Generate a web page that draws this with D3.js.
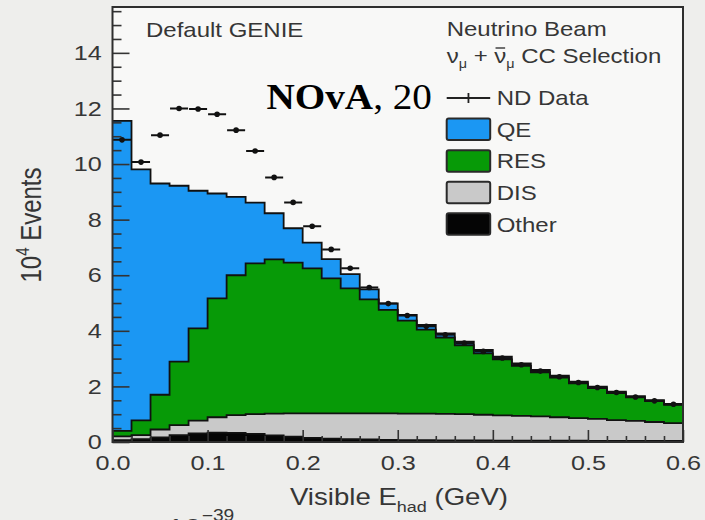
<!DOCTYPE html>
<html>
<head>
<meta charset="utf-8">
<script src="https://cdn.jsdelivr.net/npm/d3@7/dist/d3.min.js"></script>
<style>
  html, body { margin: 0; padding: 0; background: #eeeeec; }
  svg { display: block; }
  text { font-family: "Liberation Sans", Arial, Helvetica, sans-serif; fill: #363636; }
</style>
</head>
<body>
<svg id="chart" width="705" height="520"></svg>
<script>
// Lower edges of the visible hadronic energy bins (GeV); every bin is 20 MeV wide
const binLow = [0.00, 0.02, 0.04, 0.06, 0.08, 0.10, 0.12, 0.14, 0.16, 0.18,
                0.20, 0.22, 0.24, 0.26, 0.28, 0.30, 0.32, 0.34, 0.36, 0.38,
                0.40, 0.42, 0.44, 0.46, 0.48, 0.50, 0.52, 0.54, 0.56, 0.58];
const binWidth = 0.02;

// Simulated event counts per interaction mode (units of 10^4 events)
const qeEvents = [11.15, 9.03, 7.60, 6.33, 4.95, 3.77, 2.82, 2.18, 1.66, 1.24,
                  0.92, 0.69, 0.51, 0.36, 0.24, 0.20, 0.17, 0.15, 0.13, 0.12,
                  0.10, 0.09, 0.08, 0.07, 0.06, 0.05, 0.05, 0.04, 0.04, 0.03];
const resEvents = [0.20, 0.53, 1.25, 2.28, 3.32, 4.28, 5.03, 5.43, 5.55, 5.42,
                   5.22, 4.86, 4.50, 4.10, 3.72, 3.35, 3.02, 2.75, 2.48, 2.21,
                   2.01, 1.80, 1.59, 1.43, 1.25, 1.11, 0.97, 0.85, 0.75, 0.66];
const disEvents = [0.13, 0.15, 0.28, 0.36, 0.46, 0.55, 0.64, 0.71, 0.78, 0.84,
                   0.88, 0.91, 0.93, 0.94, 0.95, 0.95, 0.95, 0.95, 0.94, 0.92,
                   0.91, 0.89, 0.87, 0.84, 0.81, 0.79, 0.75, 0.72, 0.68, 0.64];
const otherEvents = [0.07, 0.10, 0.17, 0.25, 0.31, 0.34, 0.33, 0.29, 0.24, 0.19,
                     0.15, 0.12, 0.10, 0.09, 0.08, 0.07, 0.07, 0.06, 0.06, 0.06,
                     0.05, 0.05, 0.05, 0.05, 0.05, 0.04, 0.04, 0.04, 0.04, 0.04];

// Near Detector data (units of 10^4 events)
const ndData = [10.87, 10.07, 11.04, 12.00, 11.98, 11.79, 11.22, 10.47, 9.52, 8.62,
                7.76, 6.93, 6.25, 5.56, 4.98, 4.55, 4.16, 3.86, 3.56, 3.26,
                3.02, 2.78, 2.55, 2.35, 2.14, 1.96, 1.78, 1.62, 1.48, 1.36];

// Axis ticks
const xTicks = [0.0, 0.1, 0.2, 0.3, 0.4, 0.5, 0.6];
const yTicks = [0, 2, 4, 6, 8, 10, 12, 14];

// Interaction modes, bottom of the stack first
const modes = [
  { key: "other", label: "Other", values: otherEvents, color: "#050505" },
  { key: "dis",   label: "DIS",   values: disEvents,   color: "#c9c9c9" },
  { key: "res",   label: "RES",   values: resEvents,   color: "#079a07" },
  { key: "qe",    label: "QE",    values: qeEvents,    color: "#1b97f3" }
];

const svg = d3.select("#chart");
const plot = { left: 112.5, right: 683, top: 7, bottom: 442 };
const sx = 1.2; // horizontal aspect of the lettering

const x = d3.scaleLinear().domain([0, 0.6]).range([plot.left, plot.right]);
const y = d3.scaleLinear().domain([0, 15.65]).range([plot.bottom, plot.top]);

// plot background
svg.append("rect")
  .attr("x", plot.left).attr("y", plot.top)
  .attr("width", plot.right - plot.left).attr("height", plot.bottom - plot.top)
  .attr("fill", "#f8f8f7");

svg.append("clipPath").attr("id", "plotClip")
  .append("rect")
  .attr("x", plot.left).attr("y", plot.top)
  .attr("width", plot.right - plot.left).attr("height", plot.bottom - plot.top);

const body = svg.append("g").attr("clip-path", "url(#plotClip)");

// stacked histogram
const rows = binLow.map((lo, i) => {
  const r = { lo };
  modes.forEach(m => { r[m.key] = m.values[i]; });
  return r;
});
const stacked = d3.stack().keys(modes.map(m => m.key))(rows);

// step points for a layer: one per bin edge, last bin repeated at the upper edge
function stepPoints(layer) {
  const pts = layer.map((d, i) => ({ x: binLow[i], y0: d[0], y1: d[1] }));
  const last = layer[layer.length - 1];
  pts.push({ x: binLow[binLow.length - 1] + binWidth, y0: last[0], y1: last[1] });
  return pts;
}

const area = d3.area()
  .x(d => x(d.x)).y0(d => y(d.y0)).y1(d => y(d.y1))
  .curve(d3.curveStepAfter);
const topLine = d3.line()
  .x(d => x(d.x)).y(d => y(d.y1))
  .curve(d3.curveStepAfter);

stacked.forEach((layer, k) => {
  body.append("path").attr("d", area(stepPoints(layer))).attr("fill", modes[k].color);
});
stacked.forEach(layer => {
  body.append("path").attr("d", topLine(stepPoints(layer)))
    .attr("fill", "none").attr("stroke", "#111").attr("stroke-width", 1.8);
});

// data points with bin-width horizontal bars
const dataG = body.append("g");
dataG.selectAll("line.hbar").data(ndData).join("line")
  .attr("class", "hbar")
  .attr("x1", (d, i) => x(binLow[i]) + 0.5)
  .attr("x2", (d, i) => x(binLow[i] + binWidth) - 0.5)
  .attr("y1", d => y(d)).attr("y2", d => y(d))
  .attr("stroke", "#111").attr("stroke-width", 2);
dataG.selectAll("circle").data(ndData).join("circle")
  .attr("cx", (d, i) => x(binLow[i] + binWidth / 2))
  .attr("cy", d => y(d))
  .attr("r", 2.8).attr("fill", "#111");

// axes with inward ticks
const xMinor = d3.range(0, 0.6001, 0.02).filter(v => Math.abs(v * 10 - Math.round(v * 10)) > 1e-6);
const yMinor = d3.range(0, 15.6, 0.5).filter(v => v % 2 !== 0);

const gxMinor = svg.append("g").attr("transform", `translate(0,${plot.bottom})`)
  .call(d3.axisBottom(x).tickValues(xMinor).tickSize(-6).tickFormat(""));
const gx = svg.append("g").attr("transform", `translate(0,${plot.bottom})`)
  .call(d3.axisBottom(x).tickValues(xTicks).tickSizeInner(-12).tickSizeOuter(0)
        .tickPadding(13).tickFormat(d3.format(".1f")));
const gyMinor = svg.append("g").attr("transform", `translate(${plot.left},0)`)
  .call(d3.axisLeft(y).tickValues(yMinor).tickSize(-9).tickFormat(""));
const gy = svg.append("g").attr("transform", `translate(${plot.left},0)`)
  .call(d3.axisLeft(y).tickValues(yTicks).tickSizeInner(-17).tickSizeOuter(0)
        .tickPadding(9).tickFormat(d3.format("d")));

[gx, gy, gxMinor, gyMinor].forEach(g => {
  g.select(".domain").remove();
  g.selectAll(".tick line").attr("stroke", "#333").attr("stroke-width", 1.6);
});
[gx, gy].forEach(g => {
  g.selectAll(".tick text")
    .attr("font-size", 21)
    .attr("fill", "#363636")
    .attr("font-family", "Liberation Sans, Arial, sans-serif")
    .attr("transform", `scale(${sx},1)`);
});

// frame
svg.append("rect")
  .attr("x", plot.left).attr("y", plot.top)
  .attr("width", plot.right - plot.left).attr("height", plot.bottom - plot.top)
  .attr("fill", "none").attr("stroke", "#2e2e2e").attr("stroke-width", 2);

// helper for horizontally widened lettering
function label(px, py, size, opts = {}) {
  return svg.append("text")
    .attr("transform", `translate(${px},${py}) scale(${opts.sx || sx},1)` + (opts.rotate ? ` rotate(${opts.rotate})` : ""))
    .attr("font-size", size)
    .attr("text-anchor", opts.anchor || "start");
}

// axis titles
const xt = label(399, 505, 23, { anchor: "middle" });
xt.append("tspan").text("Visible E");
xt.append("tspan").attr("font-size", 15).attr("dy", 7).text("had");
xt.append("tspan").attr("dy", -7).text(" (GeV)");

const yt = label(41, 225, 24, { anchor: "middle", rotate: -90 });
yt.append("tspan").text("10");
yt.append("tspan").attr("font-size", 15).attr("dy", -10).text("4");
yt.append("tspan").attr("dy", 10).text(" Events");

// annotations
label(146, 36.5, 20).text("Default GENIE");
label(446.7, 36, 20).text("Neutrino Beam");

// selection line: ν_μ + ν̄_μ, the bar drawn over the second ν
const selG = svg.append("g").attr("transform", `translate(446.7,63) scale(${sx},1)`);
const sel = selG.append("text").attr("font-size", 20);
sel.append("tspan").text("ν");
sel.append("tspan").attr("font-size", 12).attr("dy", 5).text("μ");
sel.append("tspan").attr("dy", -5).text(" + ν");
sel.append("tspan").attr("font-size", 12).attr("dy", 5).text("μ");
sel.append("tspan").attr("dy", -5).text(" CC Selection");
const nubar = sel.node().getExtentOfChar(5);
selG.append("line")
  .attr("x1", nubar.x + 1).attr("x2", nubar.x + nubar.width - 1)
  .attr("y1", -15).attr("y2", -15)
  .attr("stroke", "#363636").attr("stroke-width", 1.4);

const nova = label(266.5, 108.5, 35, { sx: 1.12 })
  .style("font-family", "'Liberation Serif', 'Times New Roman', serif")
  .style("fill", "#000");
nova.append("tspan").attr("font-weight", "bold").text("NOvA");
nova.append("tspan").text(", 20");

// legend
const lgX = 446.7, lgW = 43.5, lgH = 21.5;
const dataRowY = 98;
svg.append("line").attr("x1", lgX).attr("x2", lgX + lgW)
  .attr("y1", dataRowY).attr("y2", dataRowY)
  .attr("stroke", "#222").attr("stroke-width", 1.8);
svg.append("line").attr("x1", lgX + lgW / 2).attr("x2", lgX + lgW / 2)
  .attr("y1", dataRowY - 5).attr("y2", dataRowY + 5)
  .attr("stroke", "#222").attr("stroke-width", 1.8);
label(496.7, dataRowY + 7, 20).text("ND Data");

const legendModes = ["qe", "res", "dis", "other"].map(k => modes.find(m => m.key === k));
legendModes.forEach((m, i) => {
  const cy = 129.3 + i * 31.6;
  svg.append("rect")
    .attr("x", lgX).attr("y", cy - lgH / 2)
    .attr("width", lgW).attr("height", lgH)
    .attr("rx", 2)
    .attr("fill", m.color).attr("stroke", "#2a2a2a").attr("stroke-width", 2);
  label(496.7, cy + 7.5, 20).text(m.label);
});

// lettering running off the lower edge
const unit = label(167, 536.5, 26);
unit.append("tspan").text("10");
unit.append("tspan").attr("font-size", 16).attr("dy", -15.5).text("−39");
</script>
</body>
</html>
